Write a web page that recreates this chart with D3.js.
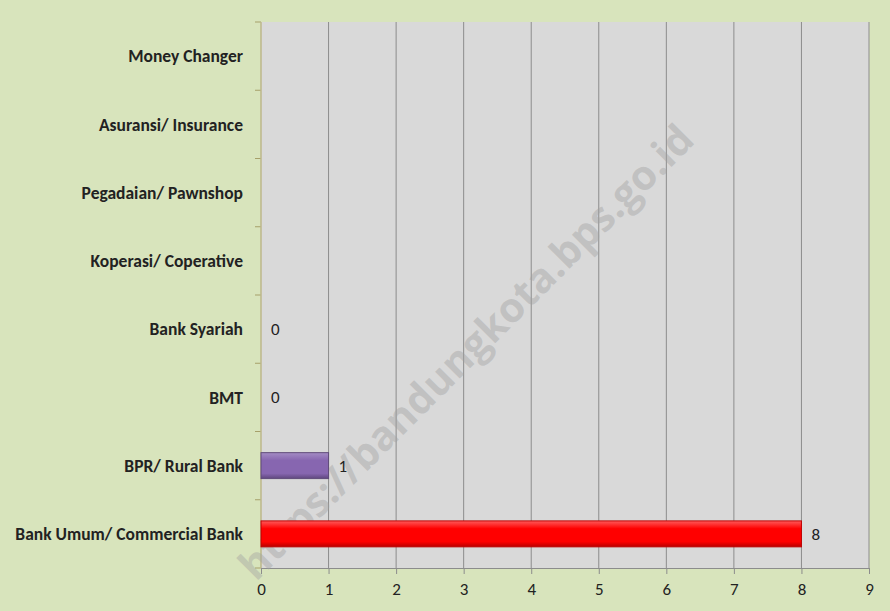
<!DOCTYPE html>
<html>
<head>
<meta charset="utf-8">
<script src="https://cdn.jsdelivr.net/npm/d3@7"></script>
<style>
  body { margin: 0; background: #d8e4bc; }
  svg { display: block; }
  .cat text { font-family: Carlito, 'Open Sans', sans-serif; font-weight: bold; font-size: 17.5px; fill: #222; }
  .xaxis text { font-family: Carlito, 'Open Sans', sans-serif; font-size: 17px; fill: #222; }
  .lbl { font-family: Carlito, 'Open Sans', sans-serif; font-size: 17px; fill: #222; }
</style>
</head>
<body>
<div id="chart"></div>
<script>
// categories top to bottom
const categories = [
  'Money Changer',
  'Asuransi/ Insurance',
  'Pegadaian/ Pawnshop',
  'Koperasi/ Coperative',
  'Bank Syariah',
  'BMT',
  'BPR/ Rural Bank',
  'Bank Umum/ Commercial Bank'
]
// null = no value shown
const values = [null, null, null, null, 0, 0, 1, 8]
const barColors = [null, null, null, null, '#8064a2', '#8064a2', '#8064a2', '#ff0000']
const xTicks = [0, 1, 2, 3, 4, 5, 6, 7, 8, 9]

const width = 890
const height = 611
const margin = { top: 22, right: 21, bottom: 43, left: 261 }

const svg = d3.select('#chart').append('svg')
  .attr('width', width)
  .attr('height', height)

svg.append('rect')
  .attr('width', width).attr('height', height)
  .attr('fill', '#d8e4bc')

const defs = svg.append('defs')
function makeGrad (id, light, mid, dark) {
  const g = defs.append('linearGradient').attr('id', id)
    .attr('x1', 0).attr('y1', 0).attr('x2', 0).attr('y2', 1)
  g.append('stop').attr('offset', '0%').attr('stop-color', light)
  g.append('stop').attr('offset', '30%').attr('stop-color', mid)
  g.append('stop').attr('offset', '80%').attr('stop-color', mid)
  g.append('stop').attr('offset', '100%').attr('stop-color', dark)
}
makeGrad('g-purple', '#a48cc4', '#8766b0', '#5f477e')
makeGrad('g-red', '#ff5a5a', '#ff0000', '#b80000')
const gradFor = { '#8064a2': 'url(#g-purple)', '#ff0000': 'url(#g-red)' }

const x = d3.scaleLinear().domain([0, 9]).range([margin.left, width - margin.right])
const y = d3.scaleBand().domain(categories)
  .range([margin.top, height - margin.bottom])
  .paddingInner(0.62).paddingOuter(0.31)

// plot area
svg.append('rect')
  .attr('x', x(0)).attr('y', margin.top)
  .attr('width', x(9) - x(0)).attr('height', height - margin.bottom - margin.top)
  .attr('fill', '#d9d9d9')

// vertical grid
svg.append('g')
  .selectAll('line')
  .data(xTicks.slice(1))
  .enter()
  .append('line')
  .attr('x1', d => x(d)).attr('x2', d => x(d))
  .attr('y1', margin.top).attr('y2', height - margin.bottom)
  .attr('stroke', '#8c8c8c').attr('stroke-width', 1)

// x axis
const xAxis = svg.append('g')
  .attr('class', 'xaxis')
  .attr('transform', `translate(0,${height - margin.bottom})`)
  .call(d3.axisBottom(x).tickValues(xTicks).tickSize(6).tickPadding(9))
xAxis.select('.domain').attr('stroke', '#8c8c8c')
xAxis.selectAll('.tick line').attr('stroke', '#8c8c8c')

// y axis (category)
const step = y.step()
const bounds = d3.range(categories.length + 1).map(i => margin.top + i * step)
svg.append('g')
  .selectAll('line')
  .data(bounds)
  .enter()
  .append('line')
  .attr('x1', x(0) - 6).attr('x2', x(0))
  .attr('y1', d => d).attr('y2', d => d)
  .attr('stroke', '#a6a06a')
svg.append('line')
  .attr('x1', x(0)).attr('x2', x(0))
  .attr('y1', margin.top).attr('y2', height - margin.bottom)
  .attr('stroke', '#bdb78a').attr('stroke-width', 1.5)

svg.append('g')
  .attr('class', 'cat')
  .selectAll('text')
  .data(categories)
  .enter()
  .append('text')
  .attr('x', x(0) - 18)
  .attr('y', d => y(d) + y.bandwidth() / 2)
  .attr('dy', '0.35em')
  .attr('text-anchor', 'end')
  .text(d => d)

// watermark (behind bars)
svg.append('text')
  .attr('transform', 'translate(466,352) rotate(-45)')
  .attr('text-anchor', 'middle')
  .attr('dy', '0.35em')
  .attr('font-family', "'Open Sans', sans-serif")
  .attr('font-weight', 'bold')
  .attr('font-size', 41)
  .attr('fill', '#a0a0a0')
  .attr('fill-opacity', 0.42)
  .text('https://bandungkota.bps.go.id')

// bars
const data = categories.map((c, i) => ({ c, v: values[i], col: barColors[i] }))
  .filter(d => d.v !== null)

svg.append('g')
  .selectAll('rect')
  .data(data.filter(d => d.v > 0))
  .enter()
  .append('rect')
  .attr('x', x(0))
  .attr('y', d => y(d.c))
  .attr('width', d => x(d.v) - x(0))
  .attr('height', y.bandwidth())
  .attr('fill', d => gradFor[d.col])
  .attr('stroke', d => d3.color(d.col).darker(0.8))
  .attr('stroke-width', 1)

svg.append('g')
  .selectAll('text')
  .data(data)
  .enter()
  .append('text')
  .attr('class', 'lbl')
  .attr('x', d => x(d.v) + 10)
  .attr('y', d => y(d.c) + y.bandwidth() / 2)
  .attr('dy', '0.35em')
  .text(d => d.v)
</script>
</body>
</html>
